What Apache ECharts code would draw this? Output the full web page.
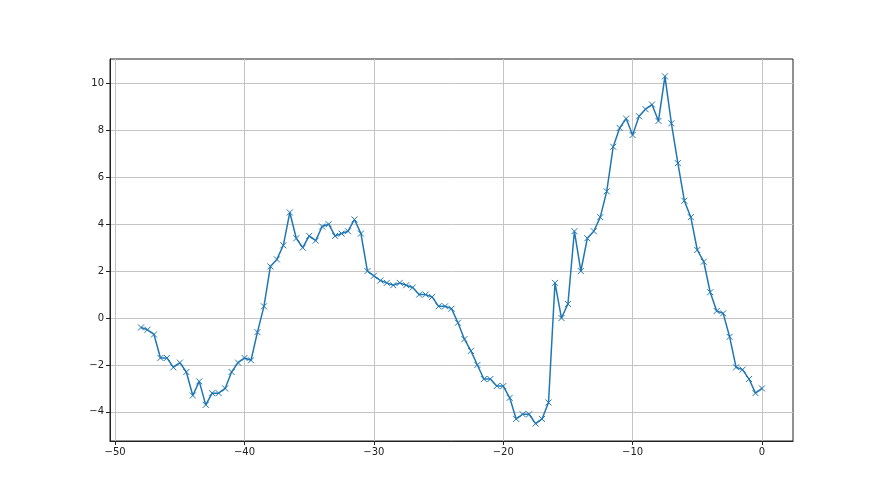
<!DOCTYPE html>
<html>
<head>
<meta charset="utf-8">
<script src="https://cdn.jsdelivr.net/npm/echarts@6/dist/echarts.min.js"></script>
<style>
  html, body { margin: 0; padding: 0; background: #fff; }
  #chart { width: 880px; height: 495px; }
</style>
</head>
<body>
<div id="chart"></div>
<script>
// x positions (step 0.5)
var xValues = [
  -48, -47.5, -47, -46.5, -46, -45.5, -45, -44.5, -44, -43.5,
  -43, -42.5, -42, -41.5, -41, -40.5, -40, -39.5, -39, -38.5,
  -38, -37.5, -37, -36.5, -36, -35.5, -35, -34.5, -34, -33.5,
  -33, -32.5, -32, -31.5, -31, -30.5, -30, -29.5, -29, -28.5,
  -28, -27.5, -27, -26.5, -26, -25.5, -25, -24.5, -24, -23.5,
  -23, -22.5, -22, -21.5, -21, -20.5, -20, -19.5, -19, -18.5,
  -18, -17.5, -17, -16.5, -16, -15.5, -15, -14.5, -14, -13.5,
  -13, -12.5, -12, -11.5, -11, -10.5, -10, -9.5, -9, -8.5,
  -8, -7.5, -7, -6.5, -6, -5.5, -5, -4.5, -4, -3.5,
  -3, -2.5, -2, -1.5, -1, -0.5, 0
];
var yValues = [
  -0.4, -0.5, -0.7, -1.7, -1.7, -2.1, -1.9, -2.3, -3.3, -2.7,
  -3.7, -3.2, -3.2, -3.0, -2.3, -1.9, -1.7, -1.8, -0.6, 0.5,
  2.2, 2.5, 3.1, 4.5, 3.4, 3.0, 3.5, 3.3, 3.9, 4.0,
  3.5, 3.6, 3.7, 4.2, 3.6, 2.0, 1.8, 1.6, 1.5, 1.4,
  1.5, 1.4, 1.3, 1.0, 1.0, 0.9, 0.5, 0.5, 0.4, -0.2,
  -0.9, -1.4, -2.0, -2.6, -2.6, -2.9, -2.9, -3.4, -4.3, -4.1,
  -4.1, -4.5, -4.3, -3.6, 1.5, 0.0, 0.6, 3.7, 2.0, 3.4,
  3.7, 4.3, 5.4, 7.3, 8.1, 8.5, 7.8, 8.6, 8.9, 9.1,
  8.4, 10.3, 8.3, 6.6, 5.0, 4.3, 2.9, 2.4, 1.1, 0.3,
  0.2, -0.8, -2.1, -2.2, -2.6, -3.2, -3.0
];
var xTicks = [-50, -40, -30, -20, -10, 0];
var yTicks = [-4, -2, 0, 2, 4, 6, 8, 10];

var points = xValues.map(function (x, i) { return [x, yValues[i]]; });

function mplLabel(v) {
  return String(v).replace('-', '\u2212');
}

var chart = echarts.init(document.getElementById('chart'));
chart.setOption({
  animation: false,
  backgroundColor: '#fff',
  grid: {
    left: 110, top: 59, right: 87, bottom: 54,
    show: true, borderColor: '#222', borderWidth: 1,
    backgroundColor: 'transparent'
  },
  xAxis: {
    type: 'value',
    min: -50.4, max: 2.4,
    axisLine: { show: true, onZero: false, lineStyle: { color: '#222', width: 1 } },
    axisTick: { show: true, inside: false, length: 4, lineStyle: { color: '#222' }, customValues: xTicks },
    axisLabel: {
      customValues: xTicks, color: '#222', fontSize: 10, margin: 6,
      fontFamily: 'DejaVu Sans', formatter: mplLabel
    },
    splitLine: { show: true, lineStyle: { color: '#c4c4c4', width: 1 } }
  },
  yAxis: {
    type: 'value',
    min: -5.24, max: 11.04,
    axisLine: { show: true, onZero: false, lineStyle: { color: '#222', width: 1 } },
    axisTick: { show: true, inside: false, length: 4, lineStyle: { color: '#222' }, customValues: yTicks },
    axisLabel: {
      customValues: yTicks, color: '#222', fontSize: 10, margin: 6,
      fontFamily: 'DejaVu Sans', formatter: mplLabel
    },
    splitLine: { show: true, lineStyle: { color: '#c4c4c4', width: 1 } }
  },
  series: [{
    type: 'line',
    data: points,
    symbol: 'path://M0,0L10,10M10,0L0,10',
    symbolSize: 6,
    showAllSymbol: true,
    lineStyle: { color: '#1f77b4', width: 1.5 },
    itemStyle: { color: '#1f77b4', borderColor: '#1f77b4', borderWidth: 1 }
  }]
});
</script>
</body>
</html>
